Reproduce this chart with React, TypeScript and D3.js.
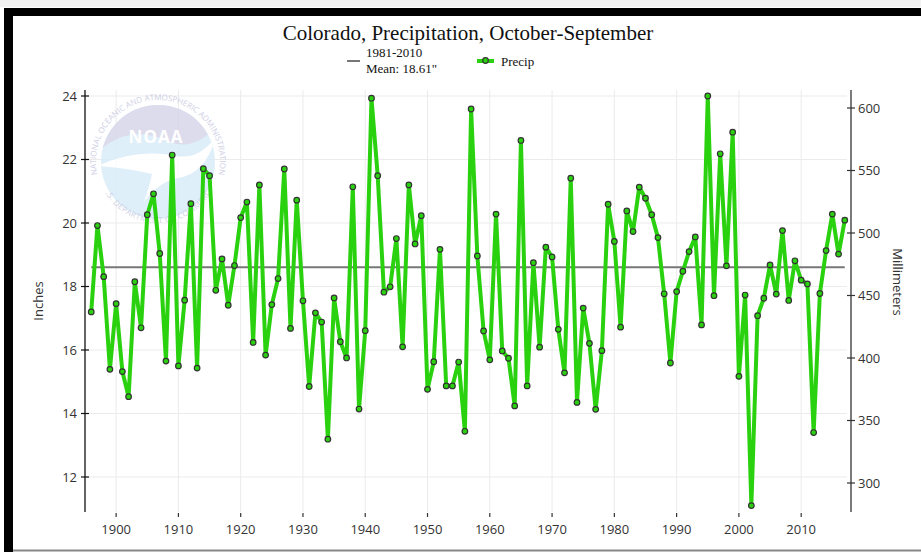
import * as d3 from 'd3';

// Colorado water-year precipitation (inches), Oct-Sep, 1896-2017
const firstYear = 1896;
const precip = [
  17.20, 19.92, 18.31, 15.39, 17.46, 15.32, 14.53, 18.15, 16.70, 20.26,
  20.92, 19.04, 15.65, 22.14, 15.50, 17.57, 20.61, 15.43, 21.71, 21.49,
  17.88, 18.87, 17.41, 18.66, 20.17, 20.66, 16.24, 21.20, 15.84, 17.43,
  18.25, 21.70, 16.68, 20.72, 17.55, 14.85, 17.17, 16.88, 13.19, 17.64,
  16.26, 15.75, 21.14, 14.14, 16.61, 23.93, 21.49, 17.82, 17.99, 19.51,
  16.10, 21.20, 19.34, 20.23, 14.76, 15.63, 19.17, 14.87, 14.87, 15.62,
  13.44, 23.59, 18.96, 16.60, 15.69, 20.28, 15.97, 15.74, 14.24, 22.60,
  14.87, 18.75, 16.09, 19.24, 18.93, 16.65, 15.28, 21.41, 14.35, 17.32,
  16.21, 14.13, 15.98, 20.59, 19.42, 16.72, 20.38, 19.73, 21.13, 20.78,
  20.26, 19.54, 17.77, 15.59, 17.84, 18.48, 19.10, 19.56, 16.79, 24.00,
  17.71, 22.18, 18.65, 22.86, 15.17, 17.73, 11.10, 17.08, 17.63, 18.68,
  17.76, 19.76, 17.56, 18.81, 18.20, 18.08, 13.40, 17.78, 19.13, 20.28,
  19.02, 20.09,
];
const mean = 18.61;
const inchTicks = [12, 14, 16, 18, 20, 22, 24];
const mmTicks = [300, 350, 400, 450, 500, 550, 600];
const yearTicks = [1900, 1910, 1920, 1930, 1940, 1950, 1960, 1970, 1980, 1990, 2000, 2010];

const points = precip.map((v, i) => ({ year: firstYear + i, value: v }));

const W = 921;
const H = 552;
const plotLeft = 85;
const plotRight = 851;
const plotTop = 90;
const plotBottom = 512;

const green = '#2ad10f';
const sans = '"Open Sans", "DejaVu Sans", sans-serif';
const serif = '"Liberation Serif", "DejaVu Serif", serif';

// faded NOAA watermark behind the series
const NoaaLogo = () => {
  const cx = 158;
  const cy = 162;
  const r = 57;
  const pt = (deg: number, rad: number) => {
    const a = (deg * Math.PI) / 180;
    return [cx + rad * Math.cos(a), cy + rad * Math.sin(a)];
  };
  const [t0x, t0y] = pt(160, 62);
  const [t1x, t1y] = pt(20, 62);
  const [b0x, b0y] = pt(150, 61);
  const [b1x, b1y] = pt(30, 61);
  return (
    <g opacity={0.85}>
      <defs>
        <clipPath id="noaaClip">
          <circle cx={cx} cy={cy} r={r} />
        </clipPath>
        <path id="noaaTop" d={`M${t0x},${t0y} A62,62 0 1 1 ${t1x},${t1y}`} />
        <path id="noaaBottom" d={`M${b0x},${b0y} A61,61 0 0 0 ${b1x},${b1y}`} />
      </defs>
      <circle cx={cx} cy={cy} r={r} fill="#d9edf9" />
      <g clipPath="url(#noaaClip)">
        <path
          d={`M${cx - 62},${cy - 8} Q${cx - 30},${cy - 40} ${cx + 12},${cy - 20} Q${cx + 38},${cy - 10} ${cx + 62},${cy - 40} L${cx + 62},${cy - 70} L${cx - 62},${cy - 70} Z`}
          fill="#d6d6e9"
        />
        <path
          d={`M${cx - 60},${cy + 4} Q${cx - 22},${cy - 14} ${cx + 18},${cy - 6} Q${cx + 42},${cy - 2} ${cx + 58},${cy - 26} Q${cx + 48},${cy + 12} ${cx + 20},${cy + 16} Q${cx},${cy + 20} ${cx - 14},${cy + 40} Q${cx - 8},${cy + 22} ${cx - 6},${cy + 12} Q${cx - 30},${cy + 6} ${cx - 60},${cy + 4} Z`}
          fill="#ffffff"
        />
      </g>
      <text x={cx - 2} y={cy - 19} textAnchor="middle" fontFamily={sans} fontWeight={700}
        fontSize={17} fill="#ffffff" letterSpacing={1}>NOAA</text>
      <text fontFamily={sans} fontSize={8} fill="#c8c8e2">
        <textPath href="#noaaTop" startOffset="50%" textAnchor="middle">NATIONAL OCEANIC AND ATMOSPHERIC ADMINISTRATION</textPath>
      </text>
      <text fontFamily={sans} fontSize={8} fill="#c8c8e2" letterSpacing={0.4}>
        <textPath href="#noaaBottom" startOffset="50%" textAnchor="middle">U.S. DEPARTMENT OF COMMERCE</textPath>
      </text>
    </g>
  );
};

const App = () => {
  const x = d3.scaleLinear().domain([1895, 2018]).range([plotLeft, plotRight]);
  const y = d3.scaleLinear().domain([12, 24]).range([477, 96]);
  const yMm = d3.scaleLinear().domain([12 * 25.4, 24 * 25.4]).range([477, 96]);

  const line = d3
    .line<{ year: number; value: number }>()
    .x((d) => x(d.year))
    .y((d) => y(d.value));

  const firstX = x(firstYear);
  const lastX = x(firstYear + precip.length - 1);

  return (
    <svg width={W} height={H} style={{ position: 'absolute', left: 0, top: 0, background: '#fff' }}>
      {/* frame */}
      <rect x={0} y={0} width={W} height={7} fill="#f2f2f2" />
      <rect x={4} y={8} width={W - 4} height={8} fill="#000" />
      <rect x={4} y={8} width={9} height={H - 8} fill="#000" />
      <line x1={13} x2={W} y1={550.5} y2={550.5} stroke="#888" strokeWidth={2} />

      <text x={468} y={40} textAnchor="middle" fontFamily={serif} fontSize={21} fill="#111">
        Colorado, Precipitation, October-September
      </text>

      {/* legend */}
      <line x1={347} x2={360} y1={61} y2={61} stroke="#777" strokeWidth={2} />
      <text x={366} y={57} fontFamily={serif} fontSize={13} fill="#111">1981-2010</text>
      <text x={366} y={73} fontFamily={serif} fontSize={13} fill="#111">Mean: 18.61"</text>
      <line x1={477} x2={494} y1={61} y2={61} stroke={green} strokeWidth={4} />
      <circle cx={485.5} cy={60.5} r={2.8} fill={green} stroke="#333" strokeWidth={1.2} />
      <text x={501} y={66} fontFamily={serif} fontSize={13} fill="#111">Precip</text>

      {/* grid */}
      <g stroke="#ebebeb" strokeWidth={1}>
        {yearTicks.map((t) => (
          <line key={t} x1={x(t)} x2={x(t)} y1={plotTop} y2={plotBottom} />
        ))}
        {inchTicks.map((t) => (
          <line key={t} x1={plotLeft} x2={plotRight - 4} y1={y(t)} y2={y(t)} />
        ))}
      </g>

      <NoaaLogo />

      {/* left axis */}
      <line x1={plotLeft} x2={plotLeft} y1={plotTop} y2={plotBottom} stroke="#111" strokeWidth={1.3} />
      {inchTicks.map((t) => (
        <g key={t}>
          <line x1={plotLeft - 4} x2={plotLeft + 4} y1={y(t)} y2={y(t)} stroke="#111" strokeWidth={1.2} />
          <text x={plotLeft - 8} y={y(t)} dy="0.35em" textAnchor="end" fontFamily={sans} fontSize={13} fill="#333">
            {t}
          </text>
        </g>
      ))}
      <text transform={`translate(43,${(plotTop + plotBottom) / 2}) rotate(-90)`} textAnchor="middle"
        fontFamily={sans} fontSize={13} fill="#333">Inches</text>

      {/* right axis */}
      <line x1={plotRight} x2={plotRight} y1={plotTop} y2={plotBottom} stroke="#333" strokeWidth={1.3} />
      {mmTicks.map((t) => (
        <g key={t}>
          <line x1={plotRight - 4} x2={plotRight + 4} y1={yMm(t)} y2={yMm(t)} stroke="#333" strokeWidth={1.2} />
          <text x={plotRight + 7} y={yMm(t)} dy="0.35em" fontFamily={sans} fontSize={13} fill="#333">
            {t}
          </text>
        </g>
      ))}
      <text transform={`translate(893,282) rotate(90)`} textAnchor="middle"
        fontFamily={sans} fontSize={13} fill="#333">Millimeters</text>

      {/* x axis ticks */}
      {yearTicks.map((t) => (
        <g key={t}>
          <line x1={x(t)} x2={x(t)} y1={plotBottom + 1} y2={plotBottom + 5} stroke="#333" strokeWidth={1.2} />
          <text x={x(t)} y={534} textAnchor="middle" fontFamily={sans} fontSize={13} fill="#333">
            {t}
          </text>
        </g>
      ))}

      {/* mean line */}
      <line x1={firstX} x2={lastX} y1={y(mean)} y2={y(mean)} stroke="#777" strokeWidth={2} />

      {/* series */}
      <path d={line(points) ?? ''} fill="none" stroke={green} strokeWidth={4} strokeLinejoin="round" />
      {points.map((d) => (
        <circle key={d.year} cx={x(d.year)} cy={y(d.value)} r={2.8} fill={green} stroke="#333" strokeWidth={1.2} />
      ))}
    </svg>
  );
};

export default App;
